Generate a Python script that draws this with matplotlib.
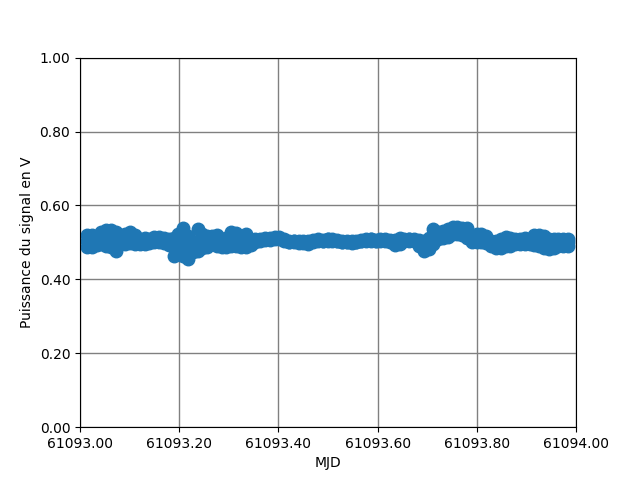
"""
Puissance du signal en fonction du temps (MJD)
"""

import numpy as np
from matplotlib import pyplot as plt
from matplotlib.ticker import FormatStrFormatter

# instants de mesure, régulièrement espacés sur la journée
mjd = np.linspace(61093.014, 61093.984, 101)

# enveloppe haute, milieu et enveloppe basse (V)
haut = [
    0.520, 0.520, 0.515, 0.528, 0.534, 0.534, 0.528, 0.518, 0.523, 0.528,
    0.520, 0.509, 0.512, 0.509, 0.515, 0.515, 0.512, 0.509, 0.512, 0.523,
    0.539, 0.518, 0.501, 0.537, 0.523, 0.518, 0.518, 0.520, 0.509, 0.512,
    0.528, 0.526, 0.512, 0.523, 0.499, 0.509, 0.510, 0.512, 0.512, 0.515,
    0.515, 0.510, 0.505, 0.505, 0.503, 0.503, 0.505, 0.507, 0.510, 0.507,
    0.510, 0.510, 0.507, 0.505, 0.503, 0.503, 0.505, 0.507, 0.510, 0.510,
    0.507, 0.510, 0.510, 0.507, 0.507, 0.512, 0.510, 0.510, 0.510, 0.507,
    0.503, 0.512, 0.537, 0.528, 0.531, 0.537, 0.542, 0.542, 0.539, 0.539,
    0.518, 0.523, 0.523, 0.518, 0.505, 0.505, 0.510, 0.515, 0.512, 0.510,
    0.510, 0.512, 0.510, 0.520, 0.520, 0.518, 0.510, 0.510, 0.510, 0.510,
    0.510,
]
milieu = [
    0.504, 0.500, 0.508, 0.512, 0.510, 0.515, 0.500, 0.508, 0.510, 0.512,
    0.505, 0.503, 0.506, 0.502, 0.508, 0.507, 0.505, 0.500, 0.488, 0.495,
    0.500, 0.485, 0.488, 0.505, 0.503, 0.500, 0.507, 0.505, 0.498, 0.500,
    0.510, 0.508, 0.500, 0.505, 0.496, 0.505, 0.507, 0.510, 0.510, 0.512,
    0.512, 0.507, 0.502, 0.503, 0.500, 0.501, 0.500, 0.503, 0.507, 0.505,
    0.508, 0.507, 0.505, 0.502, 0.501, 0.500, 0.502, 0.505, 0.507, 0.508,
    0.505, 0.507, 0.506, 0.503, 0.500, 0.505, 0.507, 0.508, 0.506, 0.498,
    0.490, 0.497, 0.515, 0.519, 0.521, 0.526, 0.532, 0.533, 0.530, 0.526,
    0.510, 0.512, 0.512, 0.508, 0.497, 0.495, 0.497, 0.502, 0.501, 0.503,
    0.503, 0.504, 0.503, 0.506, 0.505, 0.501, 0.496, 0.497, 0.500, 0.500,
    0.500,
]
bas = [
    0.488, 0.488, 0.493, 0.496, 0.491, 0.488, 0.477, 0.496, 0.496, 0.499,
    0.496, 0.496, 0.496, 0.499, 0.501, 0.501, 0.499, 0.493, 0.463, 0.469,
    0.463, 0.455, 0.474, 0.477, 0.485, 0.488, 0.496, 0.491, 0.488, 0.488,
    0.491, 0.491, 0.488, 0.488, 0.493, 0.501, 0.505, 0.507, 0.507, 0.510,
    0.510, 0.503, 0.500, 0.500, 0.498, 0.498, 0.496, 0.500, 0.503, 0.503,
    0.505, 0.505, 0.503, 0.500, 0.500, 0.498, 0.500, 0.503, 0.505, 0.505,
    0.503, 0.505, 0.503, 0.500, 0.494, 0.497, 0.505, 0.505, 0.503, 0.490,
    0.477, 0.482, 0.496, 0.509, 0.512, 0.515, 0.523, 0.523, 0.520, 0.512,
    0.501, 0.501, 0.501, 0.499, 0.490, 0.485, 0.485, 0.490, 0.490, 0.496,
    0.496, 0.496, 0.496, 0.493, 0.491, 0.485, 0.483, 0.485, 0.491, 0.491,
    0.491,
]

fig, ax = plt.subplots(figsize=(6.4, 4.8), dpi=100)
for serie in (haut, milieu, bas):
    ax.plot(mjd, serie, "o", color="#1f77b4", markersize=9)

ax.set_xlim(61093.0, 61094.0)
ax.set_ylim(0, 1)
ax.set_xticks(np.linspace(61093.0, 61094.0, 6))
ax.set_yticks(np.linspace(0, 1, 6))
ax.xaxis.set_major_formatter(FormatStrFormatter("%.2f"))
ax.yaxis.set_major_formatter(FormatStrFormatter("%.2f"))
ax.grid(True, color="grey", linewidth=1)
ax.set_axisbelow(True)
ax.set_xlabel("MJD")
ax.set_ylabel("Puissance du signal en V")

fig.savefig("out.png")
